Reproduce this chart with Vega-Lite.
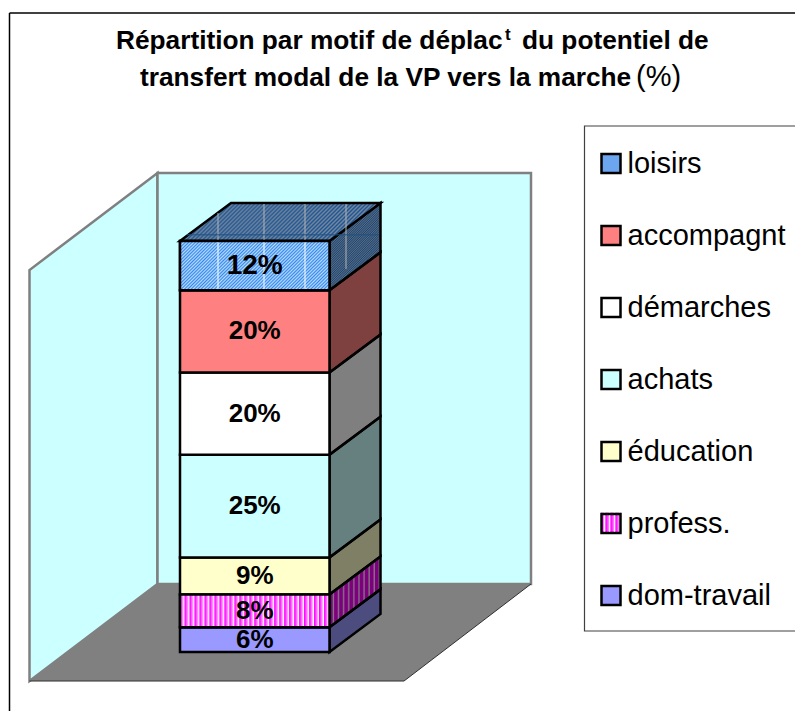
{"$schema":"https://vega.github.io/schema/vega-lite/v6.json","width":795,"height":711,"padding":0,"autosize":"none","background":"white","config":{"view":{"stroke":null},"text":{"font":"Liberation Sans"}},
"params":[
{"name":"swatch","value":[{"offset":0,"color":"#f0f"},{"offset":0.12,"color":"#f6f"},{"offset":0.18,"color":"#fff"},{"offset":0.25,"color":"#f0f"},{"offset":0.37,"color":"#f6f"},{"offset":0.43,"color":"#fff"},{"offset":0.5,"color":"#f0f"},{"offset":0.62,"color":"#f6f"},{"offset":0.68,"color":"#fff"},{"offset":0.75,"color":"#f0f"},{"offset":0.87,"color":"#f6f"},{"offset":0.93,"color":"#fff"},{"offset":1,"color":"#f0f"}]},
{"name":"hatch","value":[{"offset":0,"color":"#38e"},{"offset":0.0083,"color":"#bdf"},{"offset":0.0167,"color":"#38e"},{"offset":0.025,"color":"#bdf"},{"offset":0.0333,"color":"#38e"},{"offset":0.0417,"color":"#bdf"},{"offset":0.05,"color":"#38e"},{"offset":0.0583,"color":"#bdf"},{"offset":0.0667,"color":"#38e"},{"offset":0.075,"color":"#bdf"},{"offset":0.0833,"color":"#38e"},{"offset":0.0917,"color":"#bdf"},
{"offset":0.1,"color":"#38e"},{"offset":0.1083,"color":"#bdf"},{"offset":0.1167,"color":"#38e"},{"offset":0.125,"color":"#bdf"},{"offset":0.1333,"color":"#38e"},{"offset":0.1417,"color":"#bdf"},{"offset":0.15,"color":"#38e"},{"offset":0.1583,"color":"#bdf"},{"offset":0.1667,"color":"#38e"},{"offset":0.175,"color":"#bdf"},{"offset":0.1833,"color":"#38e"},{"offset":0.1917,"color":"#bdf"},
{"offset":0.2,"color":"#38e"},{"offset":0.2083,"color":"#bdf"},{"offset":0.2167,"color":"#38e"},{"offset":0.225,"color":"#bdf"},{"offset":0.2333,"color":"#38e"},{"offset":0.2417,"color":"#bdf"},{"offset":0.25,"color":"#38e"},{"offset":0.2583,"color":"#bdf"},{"offset":0.2667,"color":"#38e"},{"offset":0.275,"color":"#bdf"},{"offset":0.2833,"color":"#38e"},{"offset":0.2917,"color":"#bdf"},
{"offset":0.3,"color":"#38e"},{"offset":0.3083,"color":"#bdf"},{"offset":0.3167,"color":"#38e"},{"offset":0.325,"color":"#bdf"},{"offset":0.3333,"color":"#38e"},{"offset":0.3417,"color":"#bdf"},{"offset":0.35,"color":"#38e"},{"offset":0.3583,"color":"#bdf"},{"offset":0.3667,"color":"#38e"},{"offset":0.375,"color":"#bdf"},{"offset":0.3833,"color":"#38e"},{"offset":0.3917,"color":"#bdf"},
{"offset":0.4,"color":"#38e"},{"offset":0.4083,"color":"#bdf"},{"offset":0.4167,"color":"#38e"},{"offset":0.425,"color":"#bdf"},{"offset":0.4333,"color":"#38e"},{"offset":0.4417,"color":"#bdf"},{"offset":0.45,"color":"#38e"},{"offset":0.4583,"color":"#bdf"},{"offset":0.4667,"color":"#38e"},{"offset":0.475,"color":"#bdf"},{"offset":0.4833,"color":"#38e"},{"offset":0.4917,"color":"#bdf"},
{"offset":0.5,"color":"#38e"},{"offset":0.5083,"color":"#bdf"},{"offset":0.5167,"color":"#38e"},{"offset":0.525,"color":"#bdf"},{"offset":0.5333,"color":"#38e"},{"offset":0.5417,"color":"#bdf"},{"offset":0.55,"color":"#38e"},{"offset":0.5583,"color":"#bdf"},{"offset":0.5667,"color":"#38e"},{"offset":0.575,"color":"#bdf"},{"offset":0.5833,"color":"#38e"},{"offset":0.5917,"color":"#bdf"},
{"offset":0.6,"color":"#38e"},{"offset":0.6083,"color":"#bdf"},{"offset":0.6167,"color":"#38e"},{"offset":0.625,"color":"#bdf"},{"offset":0.6333,"color":"#38e"},{"offset":0.6417,"color":"#bdf"},{"offset":0.65,"color":"#38e"},{"offset":0.6583,"color":"#bdf"},{"offset":0.6667,"color":"#38e"},{"offset":0.675,"color":"#bdf"},{"offset":0.6833,"color":"#38e"},{"offset":0.6917,"color":"#bdf"},
{"offset":0.7,"color":"#38e"},{"offset":0.7083,"color":"#bdf"},{"offset":0.7167,"color":"#38e"},{"offset":0.725,"color":"#bdf"},{"offset":0.7333,"color":"#38e"},{"offset":0.7417,"color":"#bdf"},{"offset":0.75,"color":"#38e"},{"offset":0.7583,"color":"#bdf"},{"offset":0.7667,"color":"#38e"},{"offset":0.775,"color":"#bdf"},{"offset":0.7833,"color":"#38e"},{"offset":0.7917,"color":"#bdf"},
{"offset":0.8,"color":"#38e"},{"offset":0.8083,"color":"#bdf"},{"offset":0.8167,"color":"#38e"},{"offset":0.825,"color":"#bdf"},{"offset":0.8333,"color":"#38e"},{"offset":0.8417,"color":"#bdf"},{"offset":0.85,"color":"#38e"},{"offset":0.8583,"color":"#bdf"},{"offset":0.8667,"color":"#38e"},{"offset":0.875,"color":"#bdf"},{"offset":0.8833,"color":"#38e"},{"offset":0.8917,"color":"#bdf"},
{"offset":0.9,"color":"#38e"},{"offset":0.9083,"color":"#bdf"},{"offset":0.9167,"color":"#38e"},{"offset":0.925,"color":"#bdf"},{"offset":0.9333,"color":"#38e"},{"offset":0.9417,"color":"#bdf"},{"offset":0.95,"color":"#38e"},{"offset":0.9583,"color":"#bdf"},{"offset":0.9667,"color":"#38e"},{"offset":0.975,"color":"#bdf"},{"offset":0.9833,"color":"#38e"},{"offset":0.9917,"color":"#bdf"},{"offset":1,"color":"#38e"}]},
{"name":"stripesSide","value":[{"offset":0,"color":"#f0f"},{"offset":0.05,"color":"#f0f"},{"offset":0.08,"color":"#fff"},{"offset":0.1,"color":"#f0f"},{"offset":0.15,"color":"#f0f"},{"offset":0.18,"color":"#fff"},{"offset":0.2,"color":"#f0f"},{"offset":0.25,"color":"#f0f"},{"offset":0.28,"color":"#fff"},{"offset":0.3,"color":"#f0f"},{"offset":0.35,"color":"#f0f"},{"offset":0.38,"color":"#fff"},{"offset":0.4,"color":"#f0f"},{"offset":0.45,"color":"#f0f"},{"offset":0.48,"color":"#fff"},{"offset":0.5,"color":"#f0f"},{"offset":0.55,"color":"#f0f"},{"offset":0.58,"color":"#fff"},{"offset":0.6,"color":"#f0f"},{"offset":0.65,"color":"#f0f"},{"offset":0.68,"color":"#fff"},{"offset":0.7,"color":"#f0f"},{"offset":0.75,"color":"#f0f"},{"offset":0.78,"color":"#fff"},{"offset":0.8,"color":"#f0f"},{"offset":0.85,"color":"#f0f"},{"offset":0.88,"color":"#fff"},{"offset":0.9,"color":"#f0f"},{"offset":0.95,"color":"#f0f"},{"offset":0.98,"color":"#fff"},{"offset":1,"color":"#f0f"}]},
{"name":"stripes","value":[
{"offset":0,"color":"#f0f"},{"offset":0.017,"color":"#f8f"},{"offset":0.027,"color":"#fff"},
{"offset":0.033,"color":"#f0f"},{"offset":0.05,"color":"#f8f"},{"offset":0.06,"color":"#fff"},
{"offset":0.067,"color":"#f0f"},{"offset":0.083,"color":"#f8f"},{"offset":0.093,"color":"#fff"},
{"offset":0.1,"color":"#f0f"},{"offset":0.117,"color":"#f8f"},{"offset":0.127,"color":"#fff"},
{"offset":0.133,"color":"#f0f"},{"offset":0.15,"color":"#f8f"},{"offset":0.16,"color":"#fff"},
{"offset":0.167,"color":"#f0f"},{"offset":0.183,"color":"#f8f"},{"offset":0.193,"color":"#fff"},
{"offset":0.2,"color":"#f0f"},{"offset":0.217,"color":"#f8f"},{"offset":0.227,"color":"#fff"},
{"offset":0.233,"color":"#f0f"},{"offset":0.25,"color":"#f8f"},{"offset":0.26,"color":"#fff"},
{"offset":0.267,"color":"#f0f"},{"offset":0.283,"color":"#f8f"},{"offset":0.293,"color":"#fff"},
{"offset":0.3,"color":"#f0f"},{"offset":0.317,"color":"#f8f"},{"offset":0.327,"color":"#fff"},
{"offset":0.333,"color":"#f0f"},{"offset":0.35,"color":"#f8f"},{"offset":0.36,"color":"#fff"},
{"offset":0.367,"color":"#f0f"},{"offset":0.383,"color":"#f8f"},{"offset":0.393,"color":"#fff"},
{"offset":0.4,"color":"#f0f"},{"offset":0.417,"color":"#f8f"},{"offset":0.427,"color":"#fff"},
{"offset":0.433,"color":"#f0f"},{"offset":0.45,"color":"#f8f"},{"offset":0.46,"color":"#fff"},
{"offset":0.467,"color":"#f0f"},{"offset":0.483,"color":"#f8f"},{"offset":0.493,"color":"#fff"},
{"offset":0.5,"color":"#f0f"},{"offset":0.517,"color":"#f8f"},{"offset":0.527,"color":"#fff"},
{"offset":0.533,"color":"#f0f"},{"offset":0.55,"color":"#f8f"},{"offset":0.56,"color":"#fff"},
{"offset":0.567,"color":"#f0f"},{"offset":0.583,"color":"#f8f"},{"offset":0.593,"color":"#fff"},
{"offset":0.6,"color":"#f0f"},{"offset":0.617,"color":"#f8f"},{"offset":0.627,"color":"#fff"},
{"offset":0.633,"color":"#f0f"},{"offset":0.65,"color":"#f8f"},{"offset":0.66,"color":"#fff"},
{"offset":0.667,"color":"#f0f"},{"offset":0.683,"color":"#f8f"},{"offset":0.693,"color":"#fff"},
{"offset":0.7,"color":"#f0f"},{"offset":0.717,"color":"#f8f"},{"offset":0.727,"color":"#fff"},
{"offset":0.733,"color":"#f0f"},{"offset":0.75,"color":"#f8f"},{"offset":0.76,"color":"#fff"},
{"offset":0.767,"color":"#f0f"},{"offset":0.783,"color":"#f8f"},{"offset":0.793,"color":"#fff"},
{"offset":0.8,"color":"#f0f"},{"offset":0.817,"color":"#f8f"},{"offset":0.827,"color":"#fff"},
{"offset":0.833,"color":"#f0f"},{"offset":0.85,"color":"#f8f"},{"offset":0.86,"color":"#fff"},
{"offset":0.867,"color":"#f0f"},{"offset":0.883,"color":"#f8f"},{"offset":0.893,"color":"#fff"},
{"offset":0.9,"color":"#f0f"},{"offset":0.917,"color":"#f8f"},{"offset":0.927,"color":"#fff"},
{"offset":0.933,"color":"#f0f"},{"offset":0.95,"color":"#f8f"},{"offset":0.96,"color":"#fff"},
{"offset":0.967,"color":"#f0f"},{"offset":0.983,"color":"#f8f"},{"offset":0.993,"color":"#fff"},
{"offset":1,"color":"#f0f"}]}],
"datasets":{"segments":[
{"motif":"dom-travail","valeur":6,"debut":0,"fin":6,"milieu":3,"label":"6%"},
{"motif":"profess.","valeur":8,"debut":6,"fin":14,"milieu":10,"label":"8%"},
{"motif":"éducation","valeur":9,"debut":14,"fin":23,"milieu":18.5,"label":"9%"},
{"motif":"achats","valeur":25,"debut":23,"fin":48,"milieu":35.5,"label":"25%"},
{"motif":"démarches","valeur":20,"debut":48,"fin":68,"milieu":58,"label":"20%"},
{"motif":"accompagnt","valeur":20,"debut":68,"fin":88,"milieu":78,"label":"20%"},
{"motif":"loisirs","valeur":12,"debut":88,"fin":100,"milieu":94,"label":"12%"}],
"faces":[
{"motif":"dom-travail","x":329.5,"bas":0,"haut":6},{"motif":"dom-travail","x":380.5,"bas":9.25,"haut":15.25},
{"motif":"profess.","x":329.5,"bas":6,"haut":14},{"motif":"profess.","x":380.5,"bas":15.25,"haut":23.25},
{"motif":"éducation","x":329.5,"bas":14,"haut":23},{"motif":"éducation","x":380.5,"bas":23.25,"haut":32.25},
{"motif":"achats","x":329.5,"bas":23,"haut":48},{"motif":"achats","x":380.5,"bas":32.25,"haut":57.25},
{"motif":"démarches","x":329.5,"bas":48,"haut":68},{"motif":"démarches","x":380.5,"bas":57.25,"haut":77.25},
{"motif":"accompagnt","x":329.5,"bas":68,"haut":88},{"motif":"accompagnt","x":380.5,"bas":77.25,"haut":97.25},
{"motif":"loisirs","x":329.5,"bas":88,"haut":100},{"motif":"loisirs","x":380.5,"bas":97.25,"haut":109.25}],
"dessus":[{"motif":"loisirs","y":100,"x":180,"x2":329.5},{"motif":"loisirs","y":109.25,"x":231,"x2":380.5}]},
"data":{"name":"segments"},
"layer":[
{"data":{"values":[{"x":9.5,"x2":795,"y":155.5}]},"mark":{"type":"rule","color":"#000","strokeWidth":1.5},"encoding":{"x":{"field":"x","type":"quantitative","scale":{"domain":[0,795],"range":[0,795],"nice":false,"zero":false},"axis":null},"x2":{"field":"x2"},"y":{"field":"y","type":"quantitative","scale":{"domain":[-14.355,158.637],"range":[711,0],"nice":false,"zero":false},"axis":null}}},
{"data":{"values":[{"x":9.5,"y":155.5,"y2":-14.355}]},"mark":{"type":"rule","color":"#000","strokeWidth":1.5},"encoding":{"x":{"field":"x","type":"quantitative"},"y":{"field":"y","type":"quantitative"},"y2":{"field":"y2"}}},
{"data":{"values":[{"x":584.5,"x2":820,"bas":5.11,"haut":127.98}]},"mark":{"type":"rect","fill":"#fff","stroke":"#404040","strokeWidth":1.2},"encoding":{"x":{"field":"x","type":"quantitative"},"x2":{"field":"x2"},"y":{"field":"bas","type":"quantitative"},"y2":{"field":"haut"}}},
{"data":{"values":[{"x":601,"x2":621,"bas":29,"haut":33.9}]},"mark":{"type":"rect","fill":{"expr":"{gradient:'linear',x1:0,y1:0,x2:1,y2:0,stops:swatch}"}},"encoding":{"x":{"field":"x","type":"quantitative"},"x2":{"field":"x2"},"y":{"field":"bas","type":"quantitative"},"y2":{"field":"haut"}}},
{"data":{"values":[{"x":29.5,"bas":-7.06,"haut":92.94},{"x":157.5,"bas":16.55,"haut":116.55}]},"mark":{"type":"area","fill":"#ccffff","stroke":"#808080","strokeWidth":2.5},"encoding":{"x":{"field":"x","type":"quantitative"},"y":{"field":"bas","type":"quantitative"},"y2":{"field":"haut"}}},
{"data":{"values":[{"x":157.5,"x2":531,"bas":16.55,"haut":116.55}]},"mark":{"type":"rect","fill":"#ccffff","stroke":"#808080","strokeWidth":2.5},"encoding":{"x":{"field":"x","type":"quantitative"},"x2":{"field":"x2"},"y":{"field":"bas","type":"quantitative"},"y2":{"field":"haut"}}},
{"data":{"values":[{"y":-7.06,"x":29.5,"x2":404},{"y":16.55,"x":157.5,"x2":531}]},"mark":{"type":"area","orient":"horizontal","fill":"#808080"},"encoding":{"x":{"field":"x","type":"quantitative"},"x2":{"field":"x2"},"y":{"field":"y","type":"quantitative"}}},
{"data":{"values":[{"x":29.5,"y":-7.06},{"x":404,"y":-7.06},{"x":531,"y":16.55}]},"mark":{"type":"line","color":"#303030","strokeWidth":1},"encoding":{"x":{"field":"x","type":"quantitative"},"y":{"field":"y","type":"quantitative"}}},
{"data":{"name":"faces"},"mark":{"type":"area"},"encoding":{"x":{"field":"x","type":"quantitative"},"y":{"field":"bas","type":"quantitative"},"y2":{"field":"haut"},"fill":{"field":"motif","type":"nominal","scale":{"domain":["loisirs","accompagnt","démarches","achats","éducation","profess.","dom-travail"],"range":["#6ca6f0","#ff8080","#ffffff","#ccffff","#ffffcc","transparent","#9999ff"]},"legend":{"orient":"none","legendX":574.5,"legendY":127,"title":null,"padding":22,"symbolType":"square","symbolSize":361,"symbolStrokeColor":"#000","symbolStrokeWidth":2.5,"symbolOpacity":1,"labelFont":"Liberation Sans","labelFontSize":29,"labelColor":"#000","labelOffset":2,"rowPadding":42,"labelLimit":300}},"detail":{"field":"motif"}}},
{"data":{"name":"faces"},"transform":[{"filter":"datum.motif==='loisirs'"}],"mark":{"type":"area","fill":{"expr":"{gradient:'linear',x1:0,y1:0,x2:0.686,y2:1.18,stops:hatch}"}},"encoding":{"x":{"field":"x","type":"quantitative"},"y":{"field":"bas","type":"quantitative"},"y2":{"field":"haut"}}},
{"data":{"name":"faces"},"transform":[{"filter":"datum.motif==='profess.'"}],"mark":{"type":"area","fill":{"expr":"{gradient:'linear',x1:0,y1:0,x2:1,y2:0,stops:stripesSide}"}},"encoding":{"x":{"field":"x","type":"quantitative"},"y":{"field":"bas","type":"quantitative"},"y2":{"field":"haut"}}},
{"data":{"name":"faces"},"mark":{"type":"area","fill":"#000","fillOpacity":0.5,"stroke":"#000","strokeWidth":2.5},"encoding":{"x":{"field":"x","type":"quantitative"},"y":{"field":"bas","type":"quantitative"},"y2":{"field":"haut"},"detail":{"field":"motif"}}},
{"data":{"name":"dessus"},"mark":{"type":"area","orient":"horizontal","fill":{"expr":"{gradient:'linear',x1:0,y1:0,x2:1.149,y2:0.218,stops:hatch}"}},"encoding":{"x":{"field":"x","type":"quantitative"},"x2":{"field":"x2"},"y":{"field":"y","type":"quantitative"}}},
{"data":{"name":"dessus"},"mark":{"type":"area","orient":"horizontal","fill":"#000","fillOpacity":0.38,"stroke":"#000","strokeWidth":2.5},"encoding":{"x":{"field":"x","type":"quantitative"},"x2":{"field":"x2"},"y":{"field":"y","type":"quantitative"}}},
{"mark":{"type":"rect","stroke":"#000","strokeWidth":2.5},"encoding":{"x":{"datum":180},"x2":{"datum":329.5},"y":{"field":"debut","type":"quantitative"},"y2":{"field":"fin"},"fill":{"field":"motif","type":"nominal"}}},
{"transform":[{"filter":"datum.motif==='loisirs'"}],"mark":{"type":"rect","stroke":"#000","strokeWidth":2.5,"fill":{"expr":"{gradient:'linear',x1:0,y1:0,x2:1.2,y2:0.4,stops:hatch}"}},"encoding":{"x":{"datum":180},"x2":{"datum":329.5},"y":{"field":"debut","type":"quantitative"},"y2":{"field":"fin"}}},
{"transform":[{"filter":"datum.motif==='profess.'"}],"mark":{"type":"rect","stroke":"#000","strokeWidth":2.5,"fill":{"expr":"{gradient:'linear',x1:0,y1:0,x2:1,y2:0,stops:stripes}"}},"encoding":{"x":{"datum":180},"x2":{"datum":329.5},"y":{"field":"debut","type":"quantitative"},"y2":{"field":"fin"}}},
{"data":{"values":[{"x":218},{"x":264},{"x":305}]},"mark":{"type":"rule","color":"#ffffff","strokeWidth":1},"encoding":{"x":{"field":"x","type":"quantitative"},"y":{"datum":88.3},"y2":{"datum":99.7}}},
{"data":{"values":[{"x":218,"y":106.8,"y2":100.3},{"x":264,"y":109,"y2":100.3},{"x":305,"y":109,"y2":100.3},{"x":346,"y":109,"y2":93.2}]},"mark":{"type":"rule","color":"#b4b4b4","strokeWidth":1},"encoding":{"x":{"field":"x","type":"quantitative"},"y":{"field":"y","type":"quantitative"},"y2":{"field":"y2"}}},
{"data":{"values":[{"x":187,"x2":379,"y":101.5}]},"mark":{"type":"rule","color":"#1f4f80","strokeWidth":1},"encoding":{"x":{"field":"x","type":"quantitative"},"x2":{"field":"x2"},"y":{"field":"y","type":"quantitative"}}},
{"mark":{"type":"text","font":"Liberation Sans","fontWeight":"bold","color":"#000","align":"center","baseline":"middle"},"encoding":{"x":{"datum":254.7},"y":{"field":"milieu","type":"quantitative"},"text":{"field":"label"},"size":{"condition":{"test":"datum.motif==='loisirs'","value":28},"value":26}}},
{"data":{"values":[{"t":"Répartition par motif de déplac","x":116,"y":146.65},{"t":"du potentiel de","x":522,"y":146.65},{"t":"transfert modal de la VP vers la marche","x":140,"y":137.65}]},"mark":{"type":"text","font":"Liberation Sans","fontWeight":"bold","fontSize":26.25,"color":"#000","align":"left","baseline":"alphabetic"},"encoding":{"x":{"field":"x","type":"quantitative"},"y":{"field":"y","type":"quantitative"},"text":{"field":"t"}}},
{"data":{"values":[{"t":"t","x":505,"y":148.9}]},"mark":{"type":"text","font":"Liberation Sans","fontWeight":"bold","fontSize":17,"color":"#000","align":"left","baseline":"alphabetic"},"encoding":{"x":{"field":"x","type":"quantitative"},"y":{"field":"y","type":"quantitative"},"text":{"field":"t"}}},
{"data":{"values":[{"t":"(%)","x":636,"y":137.65}]},"mark":{"type":"text","font":"Liberation Sans","fontSize":29,"color":"#000","align":"left","baseline":"alphabetic"},"encoding":{"x":{"field":"x","type":"quantitative"},"y":{"field":"y","type":"quantitative"},"text":{"field":"t"}}}
]}
